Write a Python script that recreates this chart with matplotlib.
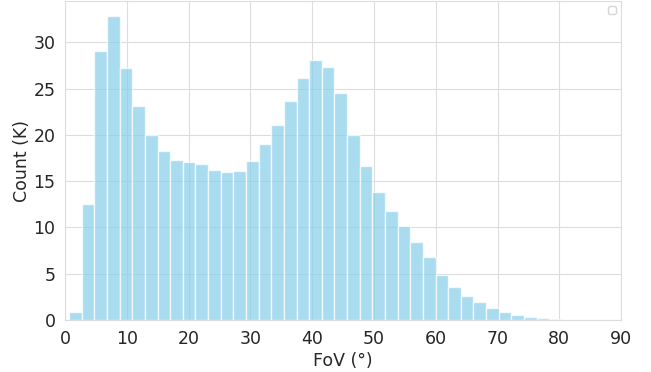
import numpy as np
import matplotlib
matplotlib.use('Agg')
import matplotlib.pyplot as plt
import seaborn as sns

# counts per FoV bin, in thousands
counts_k = [0.9, 12.5, 29.1, 32.8, 27.2, 23.1, 20.0, 18.2, 17.3, 17.1,
            16.8, 16.2, 16.0, 16.1, 17.2, 19.0, 21.1, 23.6, 26.1, 28.1,
            27.3, 24.5, 20.0, 16.6, 13.8, 11.8, 10.2, 8.4, 6.75, 4.9,
            3.55, 2.6, 1.9, 1.3, 0.87, 0.54, 0.33, 0.18, 0.06, 0.04,
            0.03, 0.02, 0.01]
fov_min = 0.65
fov_max = 88.6

edges = np.linspace(fov_min, fov_max, len(counts_k) + 1)
centers = (edges[:-1] + edges[1:]) / 2

sns.set_style('whitegrid')
plt.rcParams['font.family'] = ['DejaVu Sans']

fig, ax = plt.subplots(figsize=(6.51, 3.72), dpi=100)
fig.subplots_adjust(left=0.1, right=0.954, top=0.997, bottom=0.14)

ax.hist(centers, bins=edges, weights=counts_k, color='skyblue', alpha=0.7,
        edgecolor='white', linewidth=1)

ax.set_xlim(0, 90)
ax.set_xlabel('FoV (°)', fontsize=12.5, labelpad=3)
ax.set_ylabel('Count (K)', fontsize=12.5, labelpad=2)
ax.tick_params(labelsize=12.5)
for s in ax.spines.values():
    s.set_color('#dddddd')
ax.grid(color='#dddddd')
ax.legend(handles=[], loc='upper right', prop={'size': 7})

fig.savefig('out.png', dpi=100)
